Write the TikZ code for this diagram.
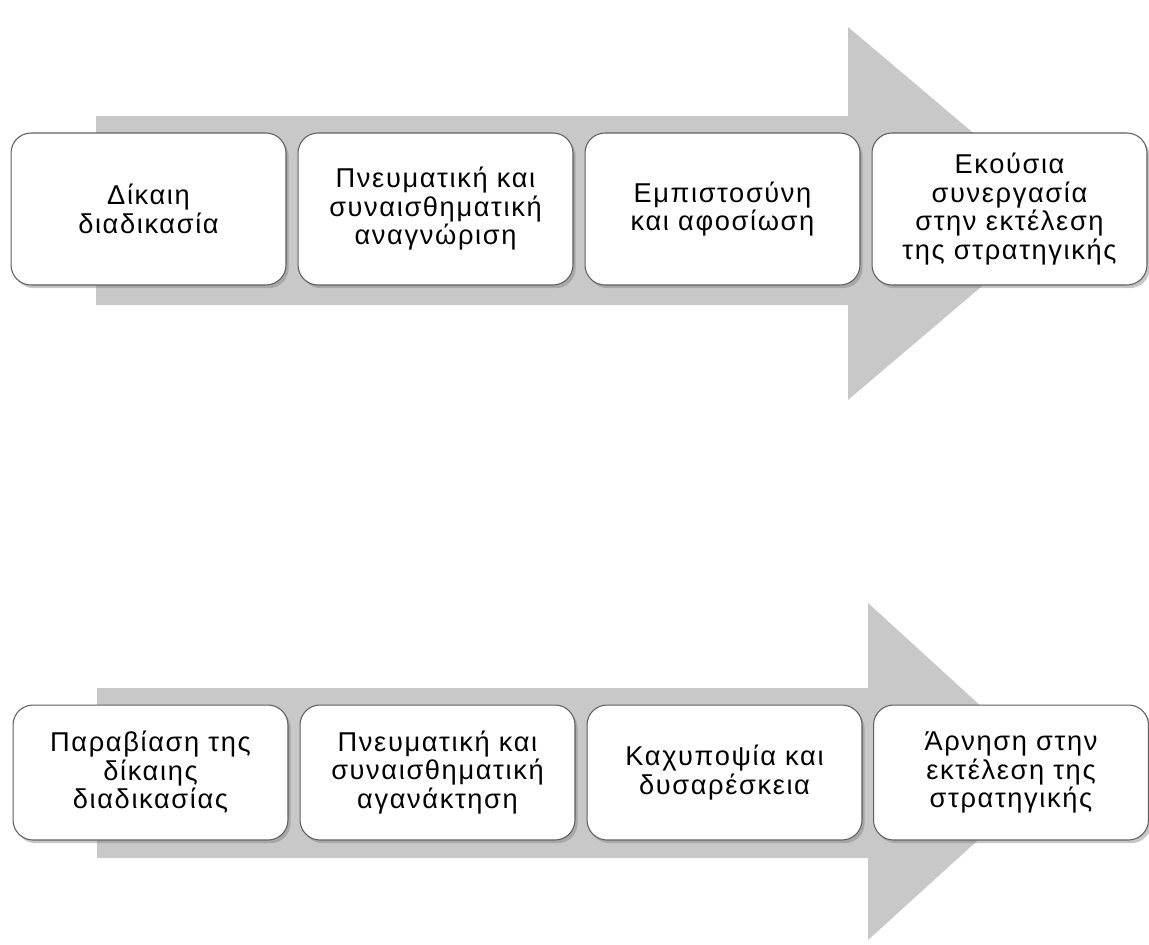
\documentclass[tikz,border=0pt]{standalone}
\usepackage{fontspec}
\setmainfont[LetterSpace=6]{Liberation Sans}
\usepackage{tikz}
\usetikzlibrary{shadows}
\definecolor{flechegris}{RGB}{200,200,200}
\definecolor{bordgris}{RGB}{95,95,95}

\begin{document}
\begin{tikzpicture}[x=0.02cm,y=-0.02cm,
  etape/.style={draw=bordgris,line width=0.6pt,fill=white,rounded corners=0.4cm,
    minimum width=5.5cm,inner sep=0pt,align=center,
    font=\fontsize{15.5}{16.2}\selectfont,
    drop shadow={opacity=0.45,shadow xshift=1.5pt,shadow yshift=-1.8pt}},
  haut/.style={etape,minimum height=3.04cm},
  bas/.style={etape,minimum height=2.7cm}]
\useasboundingbox (0,0) rectangle (1149,944);

\fill[flechegris] (96,116)--(848,116)--(848,27)--(1068,213)--(848,400)--(848,305)--(96,305)--cycle;
\fill[flechegris] (97,688)--(868,688)--(868,603)--(1053,772)--(868,940)--(868,858)--(97,858)--cycle;

\node[haut] (h1) at (148.5,209) {Δίκαιη\\διαδικασία};
\node[haut] (h2) at (435.5,209) {Πνευματική και\\συναισθηματική\\αναγνώριση};
\node[haut] (h3) at (722.5,209) {Εμπιστοσύνη\\και αφοσίωση};
\node[haut] (h4) at (1009.5,209) {Εκούσια\\συνεργασία\\στην εκτέλεση\\της στρατηγικής};

\node[bas] (b1) at (150.5,772.5) {Παραβίαση της\\δίκαιης\\διαδικασίας};
\node[bas] (b2) at (437.5,772.5) {Πνευματική και\\συναισθηματική\\αγανάκτηση};
\node[bas] (b3) at (724.5,772.5) {Καχυποψία και\\δυσαρέσκεια};
\node[bas] (b4) at (1011,772.5) {Άρνηση στην\\εκτέλεση της\\στρατηγικής};

\end{tikzpicture}
\end{document}
